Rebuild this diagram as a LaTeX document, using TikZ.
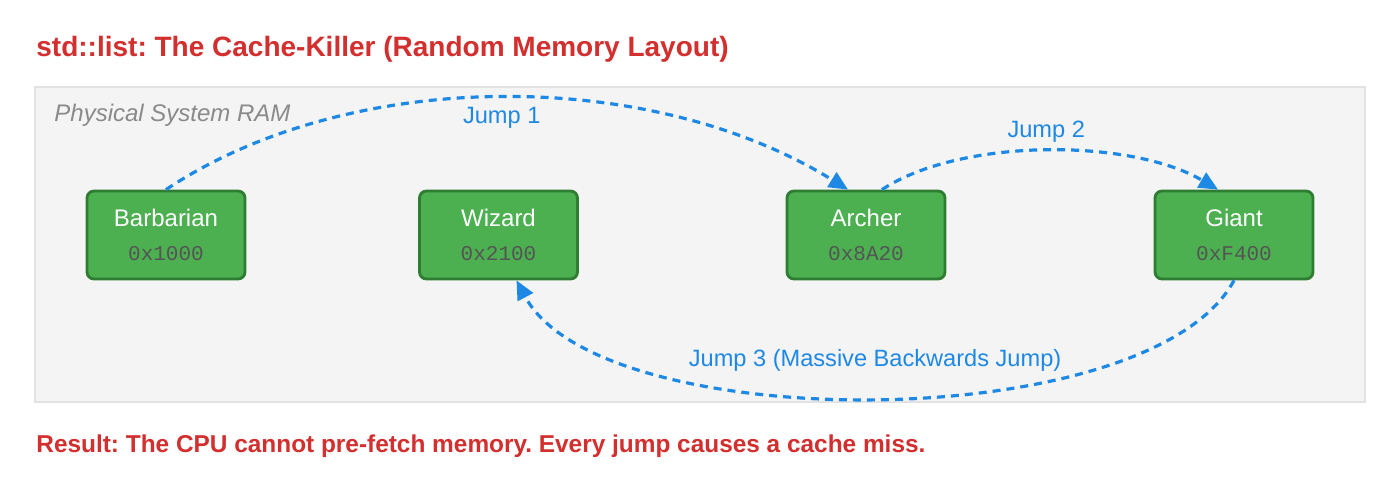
\documentclass[tikz,border=0pt]{standalone}
\usepackage{fontspec}
\setmainfont{Liberation Sans}
\setmonofont{Liberation Mono}
\usetikzlibrary{arrows.meta,positioning}
\frenchspacing
\definecolor{ramgray}{HTML}{F4F4F4}
\definecolor{ramedge}{HTML}{E2E2E2}
\definecolor{killred}{HTML}{D32F2F}
\definecolor{nodegreen}{HTML}{4CAF50}
\definecolor{darkgreen}{HTML}{2E7D32}
\definecolor{jumpblue}{HTML}{1E88E5}
\definecolor{addrgray}{HTML}{555555}
\definecolor{ramlabel}{HTML}{8A8A8A}
\tikzset{
  unitbox/.style={draw=darkgreen, line width=1.4pt, rounded corners=3.5pt, fill=nodegreen, text=white, align=center, minimum width=79pt, minimum height=44pt, inner sep=0pt, font=\fontsize{12}{17}\selectfont},
  jump/.style={draw=jumpblue, line width=1.6pt, dash pattern=on 4pt off 3pt, -{Triangle[length=9.5pt,width=8.5pt]}},
  jumplabel/.style={text=jumpblue, font=\fontsize{11.8}{14}\selectfont, inner sep=0pt},
  redtext/.style={text=killred, font=\bfseries\fontsize{14}{17}\selectfont, anchor=base west, inner sep=0pt}
}
\newcommand{\addr}[1]{{\ttfamily\fontsize{10.5}{17}\selectfont\color{addrgray}#1}}

\begin{document}
\begin{tikzpicture}[x=0.5pt, y=-0.5pt]
  \useasboundingbox[fill=white] (0,0) rectangle (1400,490);
  \node[redtext] (title) at (36,57) {std::list: The Cache-Killer (Random Memory Layout)};
  \draw[ramedge, fill=ramgray, line width=0.6pt] (35,87) rectangle (1365,402);
  \node[anchor=base west, inner sep=0pt, text=ramlabel, font=\itshape\fontsize{12}{14}\selectfont] (ram) at (54,122) {Physical System RAM};

  \node[unitbox] (barbarian) at (166,235) {Barbarian\\\addr{0x1000}};
  \node[unitbox] (wizard) at (498.5,235) {Wizard\\\addr{0x2100}};
  \node[unitbox] (archer) at (866,235) {Archer\\\addr{0x8A20}};
  \node[unitbox] (giant) at (1234,235) {Giant\\\addr{0xF400}};

  \draw[jump] (barbarian.north) .. controls (350,67) and (650,67) .. ([xshift=-9pt]archer.north)
    node[jumplabel, pos=0.5, below=4pt] {Jump 1};
  \draw[jump] ([xshift=8pt]archer.north) .. controls (960,138) and (1130,138) .. ([xshift=-8pt]giant.north)
    node[jumplabel, pos=0.5, above=3.5pt] {Jump 2};
  \draw[jump] (giant.south) .. controls (1150,437) and (600,437) .. ([xshift=9pt]wizard.south)
    node[jumplabel, pos=0.5, above=12.5pt] {Jump 3 (Massive Backwards Jump)};

  \node[redtext, font=\bfseries\fontsize{12.2}{14}\selectfont] (result) at (36,453) {Result: The CPU cannot pre-fetch memory. Every jump causes a cache miss.};
\end{tikzpicture}
\end{document}
